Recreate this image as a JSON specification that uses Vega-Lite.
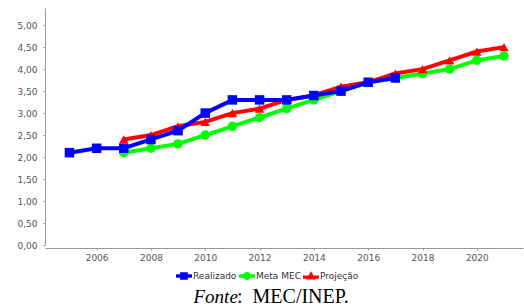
{
  "$schema": "https://vega.github.io/schema/vega-lite/v6.json",
  "autosize": "none",
  "width": 478,
  "height": 237,
  "padding": {"left": 45, "top": 8, "right": 1, "bottom": 61},
  "background": "white",
  "config": {"view": {"stroke": null}},
  "data": {"values": [
    {"ano": 2007, "serie": "Meta MEC", "valor": 2.1},
    {"ano": 2008, "serie": "Meta MEC", "valor": 2.2},
    {"ano": 2009, "serie": "Meta MEC", "valor": 2.3},
    {"ano": 2010, "serie": "Meta MEC", "valor": 2.5},
    {"ano": 2011, "serie": "Meta MEC", "valor": 2.7},
    {"ano": 2012, "serie": "Meta MEC", "valor": 2.9},
    {"ano": 2013, "serie": "Meta MEC", "valor": 3.1},
    {"ano": 2014, "serie": "Meta MEC", "valor": 3.3},
    {"ano": 2015, "serie": "Meta MEC", "valor": 3.5},
    {"ano": 2016, "serie": "Meta MEC", "valor": 3.7},
    {"ano": 2017, "serie": "Meta MEC", "valor": 3.8},
    {"ano": 2018, "serie": "Meta MEC", "valor": 3.9},
    {"ano": 2019, "serie": "Meta MEC", "valor": 4.0},
    {"ano": 2020, "serie": "Meta MEC", "valor": 4.2},
    {"ano": 2021, "serie": "Meta MEC", "valor": 4.3},
    {"ano": 2007, "serie": "Projeção", "valor": 2.4},
    {"ano": 2008, "serie": "Projeção", "valor": 2.5},
    {"ano": 2009, "serie": "Projeção", "valor": 2.7},
    {"ano": 2010, "serie": "Projeção", "valor": 2.8},
    {"ano": 2011, "serie": "Projeção", "valor": 3.0},
    {"ano": 2012, "serie": "Projeção", "valor": 3.1},
    {"ano": 2013, "serie": "Projeção", "valor": 3.3},
    {"ano": 2014, "serie": "Projeção", "valor": 3.4},
    {"ano": 2015, "serie": "Projeção", "valor": 3.6},
    {"ano": 2016, "serie": "Projeção", "valor": 3.7},
    {"ano": 2017, "serie": "Projeção", "valor": 3.9},
    {"ano": 2018, "serie": "Projeção", "valor": 4.0},
    {"ano": 2019, "serie": "Projeção", "valor": 4.2},
    {"ano": 2020, "serie": "Projeção", "valor": 4.4},
    {"ano": 2021, "serie": "Projeção", "valor": 4.5},
    {"ano": 2005, "serie": "Realizado", "valor": 2.1},
    {"ano": 2006, "serie": "Realizado", "valor": 2.2},
    {"ano": 2007, "serie": "Realizado", "valor": 2.2},
    {"ano": 2008, "serie": "Realizado", "valor": 2.4},
    {"ano": 2009, "serie": "Realizado", "valor": 2.6},
    {"ano": 2010, "serie": "Realizado", "valor": 3.0},
    {"ano": 2011, "serie": "Realizado", "valor": 3.3},
    {"ano": 2012, "serie": "Realizado", "valor": 3.3},
    {"ano": 2013, "serie": "Realizado", "valor": 3.3},
    {"ano": 2014, "serie": "Realizado", "valor": 3.4},
    {"ano": 2015, "serie": "Realizado", "valor": 3.5},
    {"ano": 2016, "serie": "Realizado", "valor": 3.7},
    {"ano": 2017, "serie": "Realizado", "valor": 3.8}
  ]},
  "encoding": {
    "x": {
      "field": "ano", "type": "quantitative",
      "scale": {"domain": [2004.1, 2021.7], "nice": false, "zero": false},
      "axis": {
        "values": [2006, 2008, 2010, 2012, 2014, 2016, 2018, 2020],
        "format": "d", "grid": false, "offset": 3,
        "domainColor": "#999999", "tickColor": "#999999", "tickSize": 2,
        "labelFont": "DejaVu Sans", "labelFontSize": 9, "labelColor": "#555555", "labelPadding": 3,
        "title": "Fonte", "titleFont": "Liberation Serif", "titleFontStyle": "italic",
        "titleFontWeight": "normal", "titleFontSize": 19, "titleColor": "#000000",
        "titleAlign": "left", "titleBaseline": "alphabetic", "titleX": 148, "titleY": 54
      }
    },
    "y": {
      "field": "valor", "type": "quantitative",
      "scale": {"domain": [0, 5.39], "nice": false},
      "axis": {
        "values": [0, 0.5, 1, 1.5, 2, 2.5, 3, 3.5, 4, 4.5, 5],
        "labelExpr": "replace(format(datum.value, '.2f'), '.', ',')",
        "grid": false,
        "domainColor": "#999999", "tickColor": "#999999", "tickSize": 2,
        "labelFont": "DejaVu Sans", "labelFontSize": 9, "labelColor": "#555555", "labelPadding": 6,
        "title": ": \u00a0MEC/INEP.", "titleFont": "Liberation Serif", "titleFontStyle": "normal",
        "titleFontWeight": "normal", "titleFontSize": 20, "titleColor": "#000000",
        "titleAngle": 0, "titleAlign": "left", "titleBaseline": "alphabetic", "titleX": 191.5, "titleY": 294
      }
    },
    "color": {
      "field": "serie", "type": "nominal",
      "scale": {"domain": ["Realizado", "Meta MEC", "Projeção"], "range": ["#0000ff", "#00ff00", "#ff0000"]},
      "legend": {
        "title": null, "orient": "none", "direction": "horizontal",
        "legendX": 131, "legendY": 260, "padding": 0,
        "labelFont": "DejaVu Sans", "labelFontSize": 9, "labelColor": "#333333",
        "labelOffset": 1, "columnPadding": 2, "symbolSize": 256, "symbolStrokeWidth": 0
      }
    }
  },
  "layer": [
    {
      "mark": {"type": "line", "strokeWidth": 4},
      "encoding": {"detail": {"field": "serie"}}
    },
    {
      "mark": {"type": "point", "filled": true, "opacity": 1, "size": 90},
      "encoding": {
        "shape": {
          "condition": [
            {"test": "datum.serie === 'Realizado'", "value": "square"},
            {"test": "datum.serie === 'Meta MEC'", "value": "circle"}
          ],
          "value": "triangle-up"
        }
      }
    },
    {
      "transform": [{"filter": "datum.valor < 0"}],
      "mark": {"type": "point", "filled": true, "opacity": 1},
      "encoding": {
        "shape": {
          "field": "serie", "type": "nominal",
          "scale": {
            "domain": ["Realizado", "Meta MEC", "Projeção"],
            "range": [
              "M-1,-0.22H1V0.22H-1Z M-0.48,-0.48H0.48V0.48H-0.48Z",
              "M-1,-0.22H1V0.22H-1Z M-0.5,0A0.5,0.5 0 1,1 0.5,0A0.5,0.5 0 1,1 -0.5,0Z",
              "M-1,-0.05H1V0.33H-1Z M0,-0.6L0.6,0.45H-0.6Z"
            ]
          }
        }
      }
    }
  ]
}
